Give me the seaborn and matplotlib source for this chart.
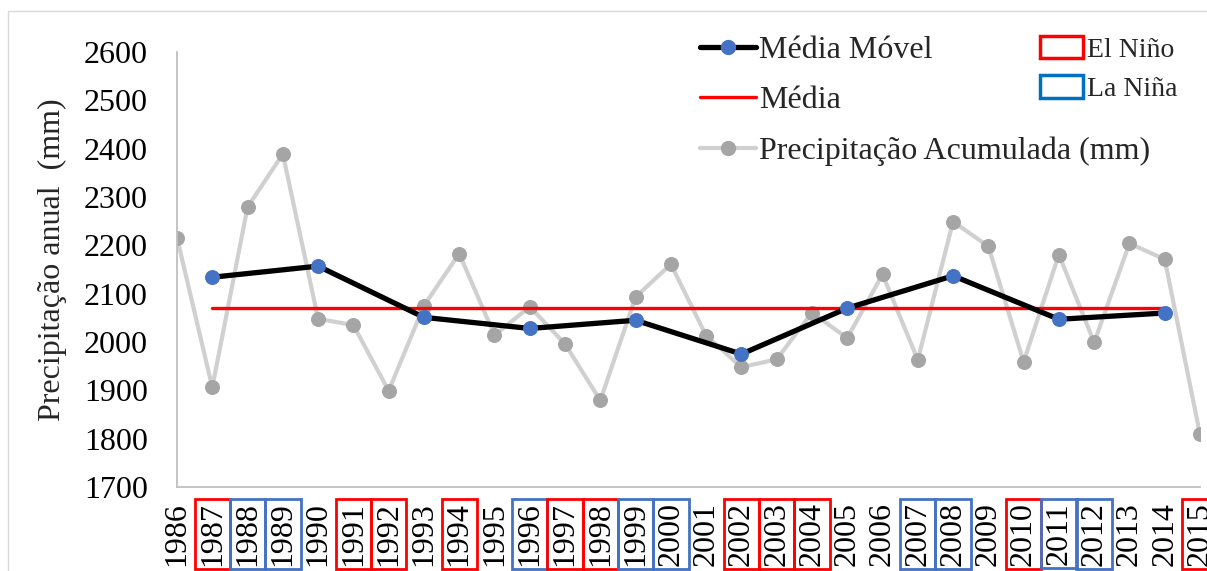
import matplotlib
matplotlib.use("Agg")
import matplotlib.pyplot as plt
import seaborn as sns
import pandas as pd
from matplotlib.lines import Line2D
from matplotlib.patches import Patch

# ---- data ----
years = list(range(1986, 2016))
precip = [2216, 1906, 2279, 2389, 2048, 2035, 1899, 2075, 2183, 2014,
          2073, 1996, 1879, 2093, 2161, 2013, 1948, 1964, 2061, 2008,
          2140, 1963, 2249, 2198, 1959, 2181, 1999, 2204, 2171, 1809]
mm_years = [1987, 1990, 1993, 1996, 1999, 2002, 2005, 2008, 2011, 2014]
mm_values = [2134, 2157, 2051, 2028, 2045, 1975, 2070, 2137, 2047, 2060]
mean_years = [1987, 2014]
mean_value = 2070
el_nino = [1987, 1991, 1992, 1994, 1997, 1998, 2002, 2003, 2004, 2010, 2015]
la_nina = [1988, 1989, 1996, 1999, 2000, 2007, 2008, 2011, 2012]
yticks = list(range(1700, 2700, 100))

sns.set_theme(style="white")
plt.rcParams['font.family'] = ['Liberation Serif', 'DejaVu Serif']

fig = plt.figure(figsize=(12.07, 5.71), dpi=100)
ax = fig.add_axes([177/1207, 1-487/571, (1200-177)/1207, (487-52)/571])

df_p = pd.DataFrame({"ano": years, "v": precip})
df_m = pd.DataFrame({"ano": mm_years, "v": mm_values})
df_mean = pd.DataFrame({"ano": mean_years, "v": [mean_value]*len(mean_years)})

sns.lineplot(data=df_p, x="ano", y="v", ax=ax, color="#d0d0d0", lw=3,
             marker="o", markersize=10, markerfacecolor="#a5a5a5",
             markeredgecolor="#a5a5a5", zorder=2)
sns.lineplot(data=df_mean, x="ano", y="v", ax=ax, color="#ff0000", lw=2.4, zorder=3)
sns.lineplot(data=df_m, x="ano", y="v", ax=ax, color="black", lw=3.8,
             marker="o", markersize=10, markerfacecolor="#4472c4",
             markeredgecolor="#4472c4", zorder=4)
ax.set_xlim(1986, 2015)
ax.set_ylim(1700, 2600)
ax.set_yticks(yticks)
ax.set_yticklabels([str(t) for t in yticks], fontsize=23)
ax.set_xticks(years)
ax.set_xticklabels([str(y) for y in years], rotation=90, fontsize=23)
ax.tick_params(axis='y', length=0, pad=21, colors='black')
ax.tick_params(axis='x', length=0, pad=11, colors='black')
ax.set_xlabel("")
ax.set_ylabel("Precipitação anual  (mm)", fontsize=23)
ax.yaxis.set_label_coords(-0.108, 0.522)

for s in ["top", "right"]:
    ax.spines[s].set_visible(False)
for s in ["left", "bottom"]:
    ax.spines[s].set_color("#bfbfbf")
    ax.spines[s].set_linewidth(1.3)

for lab in ax.get_xticklabels():
    y = int(lab.get_text())
    if y in el_nino:
        lab.set_bbox(dict(boxstyle="square,pad=0.1", fc="none", ec="#ff0000", lw=2))
    elif y in la_nina:
        lab.set_bbox(dict(boxstyle="square,pad=0.1", fc="none", ec="#4472c4", lw=2))

h1 = Line2D([], [], color="black", lw=3.8, marker="o", markersize=10,
            markerfacecolor="#4472c4", markeredgecolor="#4472c4")
h2 = Line2D([], [], color="#ff0000", lw=2.4)
h3 = Line2D([], [], color="#d0d0d0", lw=3, marker="o", markersize=10,
            markerfacecolor="#a5a5a5", markeredgecolor="#a5a5a5")
leg1 = fig.legend([h1, h2, h3], ["Média Móvel", "Média", "Precipitação Acumulada (mm)"],
                  loc="upper left", bbox_to_anchor=(700/1207, 1-36/571),
                  frameon=False, fontsize=23, handlelength=1.75, handletextpad=0.1,
                  labelspacing=0.65, borderaxespad=0, borderpad=0)

p1 = Patch(facecolor="none", edgecolor="#ff0000", lw=2.5, joinstyle="round")
p2 = Patch(facecolor="none", edgecolor="#0070c0", lw=2.5, joinstyle="round")
leg2 = fig.legend([p1, p2], ["El Niño", "La Niña"], loc="upper left",
                  bbox_to_anchor=(1040/1207, 1-36/571), frameon=False, fontsize=20,
                  handlelength=1.55, handleheight=0.85, handletextpad=0.15,
                  labelspacing=0.46, borderaxespad=0, borderpad=0)

# outer frame (left and top edges visible)
fig.add_artist(Line2D([8/1207, 8/1207], [0, 1-11/571], transform=fig.transFigure,
                      color="#d9d9d9", lw=1))
fig.add_artist(Line2D([8/1207, 1], [1-11/571, 1-11/571], transform=fig.transFigure,
                      color="#d9d9d9", lw=1))

fig.savefig("out.png", dpi=100)
